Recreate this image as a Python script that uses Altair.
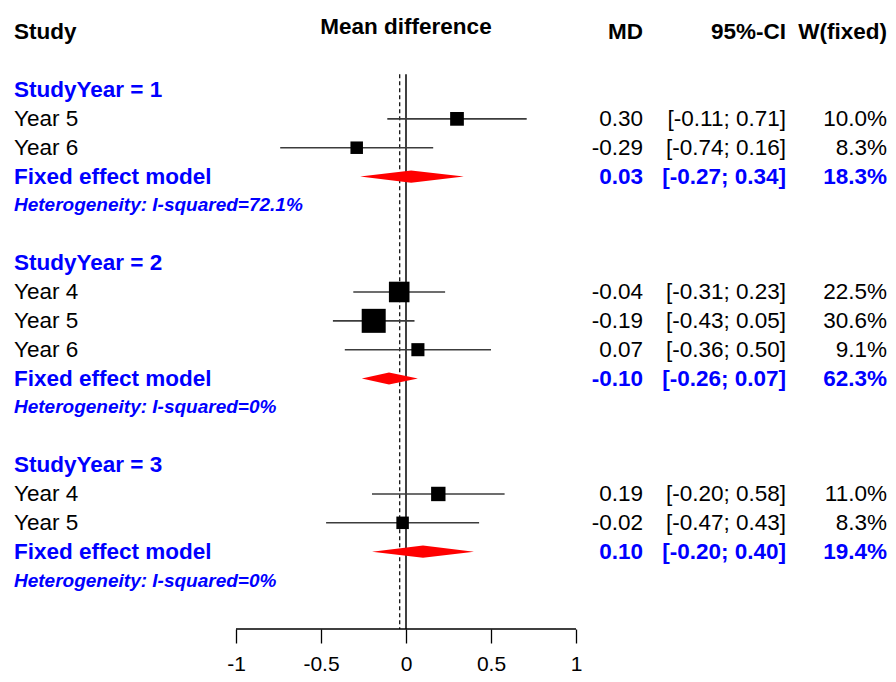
import altair as alt
import pandas as pd

# ---------------- data ----------------
group_labels = ["StudyYear = 1", "StudyYear = 2", "StudyYear = 3"]
study_names = [["Year 5", "Year 6"], ["Year 4", "Year 5", "Year 6"], ["Year 4", "Year 5"]]
study_md = [[0.30, -0.29], [-0.04, -0.19, 0.07], [0.19, -0.02]]
study_lo = [[-0.11, -0.74], [-0.31, -0.43, -0.36], [-0.20, -0.47]]
study_hi = [[0.71, 0.16], [0.23, 0.05, 0.50], [0.58, 0.43]]
study_w = [[10.0, 8.3], [22.5, 30.6, 9.1], [11.0, 8.3]]
fixed_md = [0.03, -0.10, 0.10]
fixed_lo = [-0.27, -0.26, -0.20]
fixed_hi = [0.34, 0.07, 0.40]
fixed_w = [18.3, 62.3, 19.4]
i_squared = ["72.1%", "0%", "0%"]
overall_fixed_md = -0.037
tick_values = [-1, -0.5, 0, 0.5, 1]
header_labels = ["Study", "Mean difference", "MD", "95%-CI", "W(fixed)"]

# ---------------- build tables ----------------
studies, fixeds, groups, hets, diamond = [], [], [], [], []
half_h = 0.21
r = 2
for gi, g in enumerate(group_labels):
    groups.append({"row": r, "label": g})
    for k, name in enumerate(study_names[gi]):
        rr = r + 1 + k
        studies.append({
            "row": rr, "label": name, "md": study_md[gi][k],
            "lo": study_lo[gi][k], "hi": study_hi[gi][k], "w": study_w[gi][k],
        })
    nk = len(study_names[gi])
    fr = r + 1 + nk
    fixeds.append({"row": fr, "label": "Fixed effect model", "md": fixed_md[gi],
                   "lo": fixed_lo[gi], "hi": fixed_hi[gi], "w": fixed_w[gi]})
    diamond += [
        {"g": gi, "x": fixed_lo[gi], "y": fr, "y2": fr},
        {"g": gi, "x": fixed_md[gi], "y": fr - half_h, "y2": fr + half_h},
        {"g": gi, "x": fixed_hi[gi], "y": fr, "y2": fr},
    ]
    hets.append({"row": fr + 1, "label": "Heterogeneity: I-squared=" + i_squared[gi]})
    r = r + nk + 4

def fmt_cols(df):
    df["md_t"] = df["md"].map(lambda v: f"{v:.2f}")
    df["ci_t"] = df.apply(lambda d: f"[{d['lo']:.2f}; {d['hi']:.2f}]", axis=1)
    df["w_t"] = df["w"].map(lambda v: f"{v:.1f}%")
    return df

studies = fmt_cols(pd.DataFrame(studies))
fixeds = fmt_cols(pd.DataFrame(fixeds))
groups = pd.DataFrame(groups)
hets = pd.DataFrame(hets)
diamond = pd.DataFrame(diamond)

FONT = "Liberation Sans"
W, H = 880, 621
FS = 22.5
DY = 0
BLUE = "#0000FF"
ROW_MIN, ROW_MAX = -0.842, 20.68
x_scale = alt.Scale(domain=[-2.3412, 2.8353], nice=False, zero=False)
y_scale = alt.Scale(domain=[ROW_MIN, ROW_MAX], reverse=True, nice=False, zero=False)

X = alt.X("x:Q", scale=x_scale, axis=alt.Axis(
    values=tick_values, domain=False, grid=False, title=None,
    tickSize=14, tickColor="black", tickWidth=1.3,
    labelFontSize=21, labelColor="black", labelFont=FONT, labelPadding=10,
    labelFlush=False, labelExpr="toString(datum.value)"))
Y = alt.Y("row:Q", scale=y_scale, axis=None)

def text_layer(df, field, x, align, size=FS, weight="normal", color="black", style="normal"):
    return alt.Chart(df).mark_text(
        align=align, baseline="middle", fontSize=size, fontWeight=weight,
        color=color, font=FONT, fontStyle=style, dy=DY
    ).encode(x=x, y=alt.Y("row:Q", scale=y_scale, axis=None), text=f"{field}:N")

# vertical reference lines
vlines = pd.DataFrame({"x": [0.0], "row": [1.45], "row2": [ROW_MAX]})
zero_line = alt.Chart(vlines).mark_rule(color="black", strokeWidth=1.5).encode(
    x=X, y=Y, y2="row2:Q")
dash_df = pd.DataFrame({"x": [overall_fixed_md], "row": [1.45], "row2": [ROW_MAX]})
dash_line = alt.Chart(dash_df).mark_rule(color="black", strokeWidth=1.2, strokeDash=[4, 3]).encode(
    x=alt.X("x:Q", scale=x_scale), y=Y, y2="row2:Q")

# x axis baseline from -1 to 1
axis_df = pd.DataFrame({"x": [min(tick_values)], "x2": [max(tick_values)], "row": [ROW_MAX]})
axis_line = alt.Chart(axis_df).mark_rule(color="black", strokeWidth=1.3).encode(
    x=alt.X("x:Q", scale=x_scale), x2="x2:Q", y=Y)

ci = alt.Chart(studies).mark_rule(color="#3c3c3c", strokeWidth=1.6).encode(
    x=alt.X("lo:Q", scale=x_scale), x2="hi:Q", y=Y)
squares = alt.Chart(studies).mark_square(color="black", opacity=1, filled=True).encode(
    x=alt.X("md:Q", scale=x_scale), y=Y,
    size=alt.Size("w:Q", scale=alt.Scale(domain=[0, 100], range=[0, 1884], zero=True), legend=None))
diam = alt.Chart(diamond).mark_area(color="#FF0000", opacity=1).encode(
    x=alt.X("x:Q", scale=x_scale), y=alt.Y("y:Q", scale=y_scale, axis=None), y2="y2:Q",
    detail="g:N")

hdr = pd.DataFrame({"row": [0, -0.2, 0, 0, 0], "label": header_labels})
hdr_study = text_layer(hdr.iloc[[0]], "label", alt.value(6), "left", weight="bold")
hdr_md = alt.Chart(hdr.iloc[[1]]).mark_text(
    align="center", baseline="middle", fontSize=FS, fontWeight="bold", color="black",
    font=FONT, dy=DY
).encode(x=alt.datum(0, scale=x_scale), y=Y, text="label:N")
hdr_md2 = text_layer(hdr.iloc[[2]], "label", alt.value(635), "right", weight="bold")
hdr_ci = text_layer(hdr.iloc[[3]], "label", alt.value(778), "right", weight="bold")
hdr_w = text_layer(hdr.iloc[[4]], "label", alt.value(879), "right", weight="bold")

grp_txt = text_layer(groups, "label", alt.value(6), "left", weight="bold", color=BLUE)
st_txt = text_layer(studies, "label", alt.value(6), "left")
fx_txt = text_layer(fixeds, "label", alt.value(6), "left", weight="bold", color=BLUE)
het_txt = text_layer(hets, "label", alt.value(6), "left", size=19, weight="bold",
                     color=BLUE, style="italic")

st_md = text_layer(studies, "md_t", alt.value(635), "right")
st_ci = text_layer(studies, "ci_t", alt.value(778), "right")
st_w = text_layer(studies, "w_t", alt.value(879), "right")
fx_md = text_layer(fixeds, "md_t", alt.value(635), "right", weight="bold", color=BLUE)
fx_ci = text_layer(fixeds, "ci_t", alt.value(778), "right", weight="bold", color=BLUE)
fx_w = text_layer(fixeds, "w_t", alt.value(879), "right", weight="bold", color=BLUE)

chart = alt.layer(
    zero_line, dash_line, axis_line, ci, squares, diam,
    hdr_study, hdr_md, hdr_md2, hdr_ci, hdr_w,
    grp_txt, st_txt, fx_txt, het_txt,
    st_md, st_ci, st_w, fx_md, fx_ci, fx_w,
).properties(
    width=W, height=H,
    autosize=alt.AutoSizeParams(type="none"),
    padding={"left": 0, "top": 0, "right": 0, "bottom": 45},
    background="white",
).configure(font=FONT).configure_view(stroke=None)

chart.save("out.html", embed_options={"renderer": "svg", "actions": False})
